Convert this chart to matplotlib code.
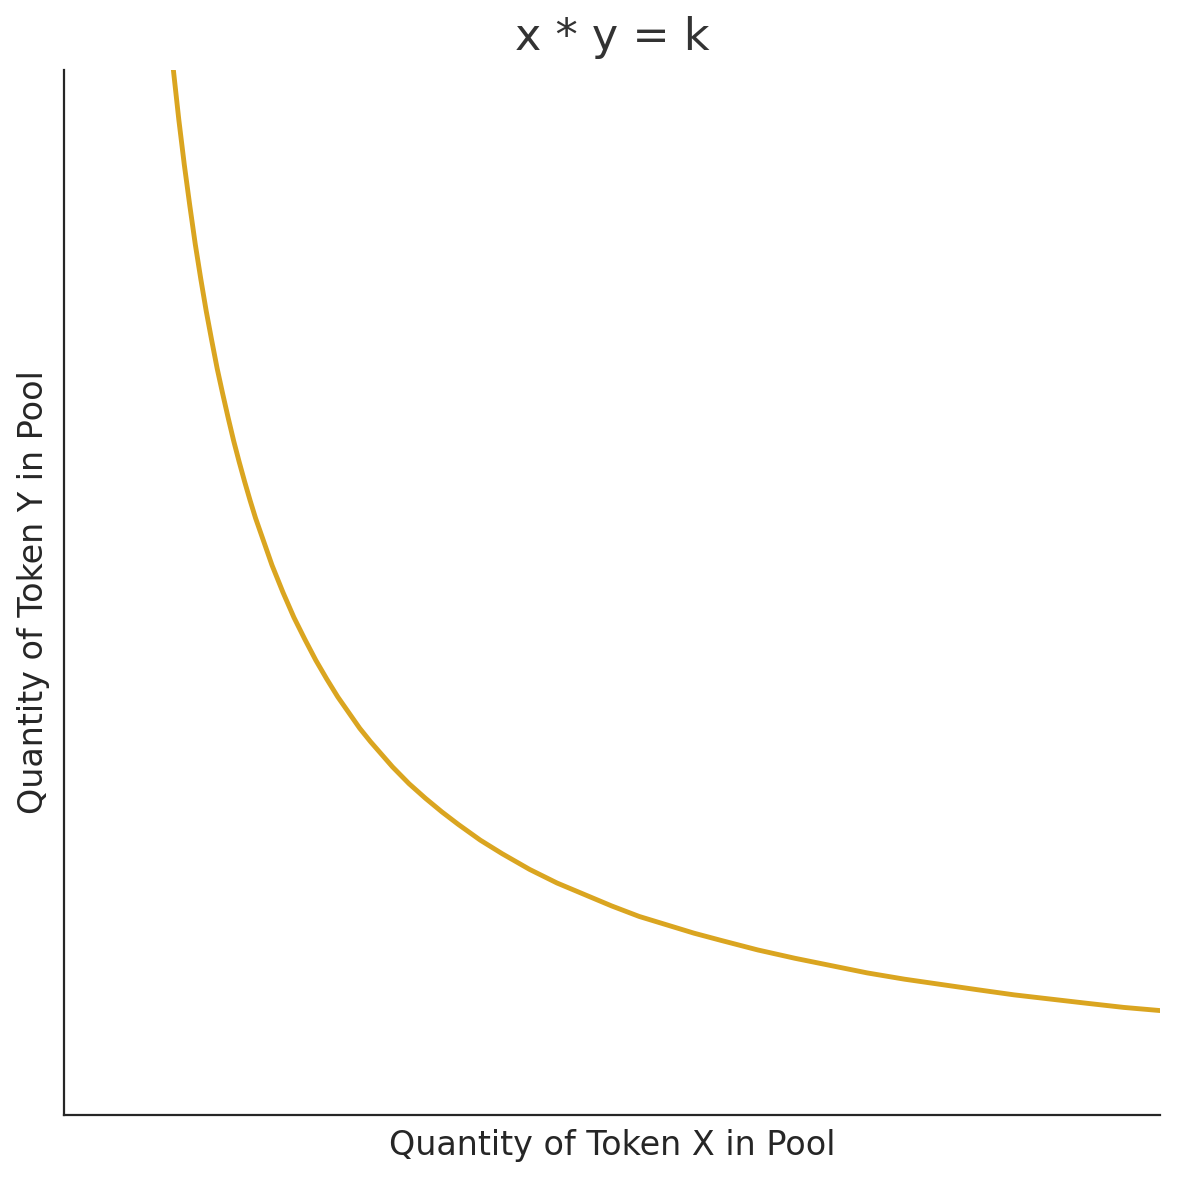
import matplotlib
matplotlib.use("Agg")
import matplotlib.pyplot as plt
import seaborn as sns

# points (x * y = k)
x_tokens = [0.98, 1.0, 1.05, 1.1, 1.15, 1.2, 1.25, 1.3, 1.35, 1.4, 1.45, 1.5, 1.55, 1.6,
            1.65, 1.7, 1.75, 1.8, 1.85, 1.9, 1.95, 2.0, 2.1, 2.2, 2.3, 2.4, 2.5, 2.6,
            2.7, 2.8, 2.9, 3.0, 3.15, 3.3, 3.45, 3.6, 3.8, 4.0, 4.25, 4.5, 4.75, 5.0,
            5.25, 5.5, 5.75, 6.0, 6.33, 6.67, 7.0, 7.33, 7.67, 8.0, 8.33, 8.67, 9.0,
            9.33, 9.67, 10.0]
y_tokens = [10.2, 10.0, 9.52, 9.09, 8.7, 8.33, 8.0, 7.69, 7.41, 7.14, 6.9, 6.67, 6.45,
            6.25, 6.06, 5.88, 5.71, 5.56, 5.41, 5.26, 5.13, 5.0, 4.76, 4.55, 4.35, 4.17,
            4.0, 3.85, 3.7, 3.57, 3.45, 3.33, 3.17, 3.03, 2.9, 2.78, 2.63, 2.5, 2.35,
            2.22, 2.11, 2.0, 1.9, 1.82, 1.74, 1.67, 1.58, 1.5, 1.43, 1.36, 1.3, 1.25,
            1.2, 1.15, 1.11, 1.07, 1.03, 1.0]

sns.set_style("white")
plt.rcParams['font.family'] = ['DejaVu Sans']

fig = plt.figure(figsize=(5.9, 5.9), dpi=200)
ax = fig.add_axes([0.054, 0.055, 0.929, 0.886])
ax.plot(x_tokens, y_tokens, color="#DAA520", lw=1.75, solid_joinstyle="round")
ax.set_xlim(0, 10)
ax.set_ylim(0, 10)
ax.set_xticks([])
ax.set_yticks([])
ax.set_xlabel("Quantity of Token X in Pool", fontsize=12, labelpad=5)
ax.set_ylabel("Quantity of Token Y in Pool", fontsize=12, labelpad=5)
ax.set_title("x * y = k", fontsize=16, color="#333333", pad=7)
sns.despine(ax=ax)

fig.savefig("out.png", dpi=200)
